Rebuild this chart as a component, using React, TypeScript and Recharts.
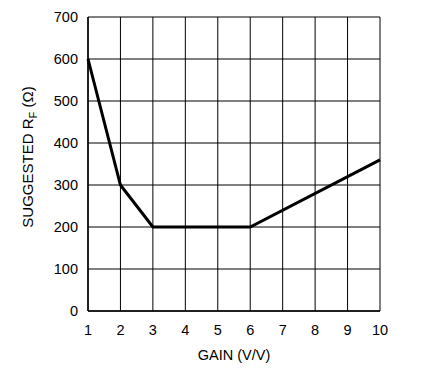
import React from 'react';
import { LineChart, Line, XAxis, YAxis, CartesianGrid, Label } from 'recharts';

const gain = [1, 2, 3, 6, 10];
const suggestedRf = [600, 300, 200, 200, 360];
const xTicks = [1, 2, 3, 4, 5, 6, 7, 8, 9, 10];
const yTicks = [0, 100, 200, 300, 400, 500, 600, 700];

const data = gain.map((g, i) => ({ gain: g, rf: suggestedRf[i] }));

const FONT = '"Liberation Sans", Arial, sans-serif';
const FS = 14.5;

function YLabel() {
  return (
    <text
      x={33}
      y={157}
      transform="rotate(-90 33 157)"
      textAnchor="middle"
      fontFamily={FONT}
      fontSize={15}
      fill="#000"
    >
      SUGGESTED R
      <tspan fontSize={11} dy={4}>F</tspan>
      <tspan dy={-4}> (Ω)</tspan>
    </text>
  );
}

export default function App() {
  return (
    <div style={{ width: 441, height: 370 }}>
      <style>{`body{margin:0}`}</style>
      <LineChart
        width={441}
        height={370}
        data={data}
        margin={{ top: 17, right: 61, left: 0, bottom: 0 }}
      >
        <CartesianGrid stroke="#000" strokeWidth={1} />
        <XAxis
          dataKey="gain"
          type="number"
          domain={[1, 10]}
          ticks={xTicks}
          height={59}
          tickLine={false}
          tickSize={0}
          tickMargin={14}
          axisLine={{ stroke: '#000', strokeWidth: 1.5 }}
          tick={{ fill: '#000', fontSize: FS, fontFamily: FONT }}
        >
          <Label
            value="GAIN (V/V)"
            position="insideBottom"
            offset={10}
            style={{ fill: '#000', fontSize: FS, fontFamily: FONT }}
          />
        </XAxis>
        <YAxis
          type="number"
          domain={[0, 700]}
          ticks={yTicks}
          width={88}
          tickLine={false}
          tickSize={0}
          tickMargin={10}
          axisLine={{ stroke: '#000', strokeWidth: 1.5 }}
          tick={{ fill: '#000', fontSize: FS, fontFamily: FONT }}
          label={<YLabel />}
        />
        <Line
          dataKey="rf"
          stroke="#000"
          strokeWidth={3}
          dot={false}
          isAnimationActive={false}
        />
      </LineChart>
    </div>
  );
}
